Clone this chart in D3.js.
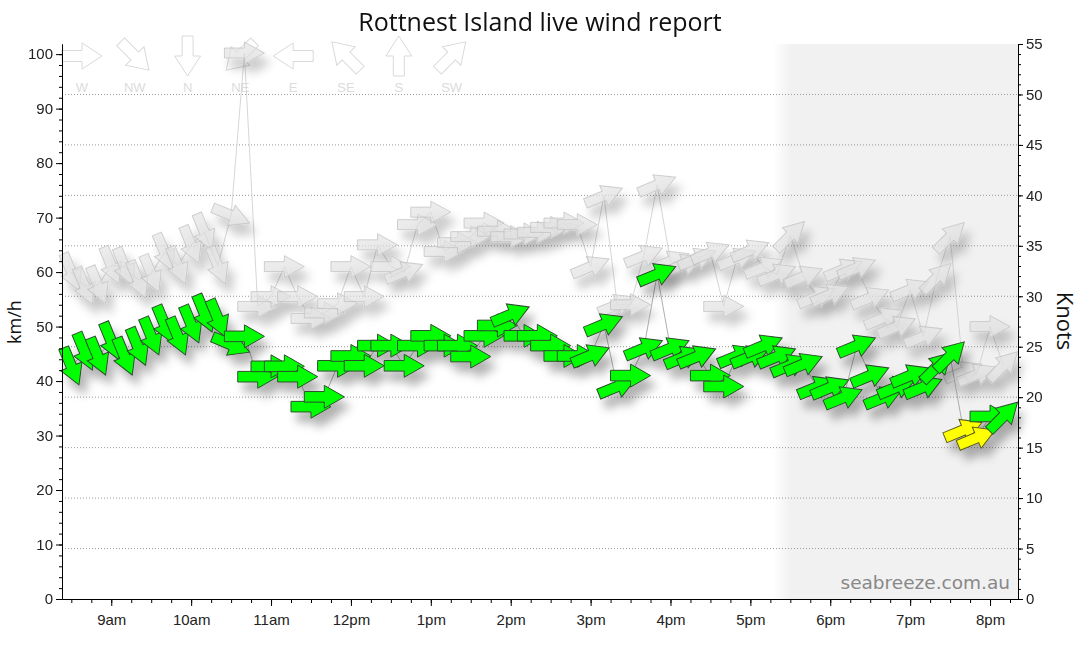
<!DOCTYPE html>
<html>
<head>
<meta charset="utf-8">
<script src="https://cdn.jsdelivr.net/npm/d3@7"></script>
<style>
body { margin: 0; background: #fff; }
svg { display: block; }
</style>
</head>
<body>
<svg id="chart"></svg>
<script>
// Readings every 10 minutes
const times = ["08:30","08:40","08:50","09:00","09:10","09:20","09:30","09:40","09:50","10:00","10:10","10:20",
    "10:30","10:40","10:50","11:00","11:10","11:20","11:30","11:40","11:50","12:00","12:10","12:20",
    "12:30","12:40","12:50","13:00","13:10","13:20","13:30","13:40","13:50","14:00","14:10","14:20",
    "14:30","14:40","14:50","15:00","15:10","15:20","15:30","15:40","15:50","16:00","16:10","16:20",
    "16:30","16:40","16:50","17:00","17:10","17:20","17:30","17:40","17:50","18:00","18:10","18:20",
    "18:30","18:40","18:50","19:00","19:10","19:20","19:30","19:40","19:50","20:00","20:10"];

// average wind, km/h
const windSpeed = [42.7,45.4,44.5,47.3,44.5,46.3,48.2,50.4,48.2,50.4,52.4,51.5,
    46.7,48.2,40.8,42.7,42.7,40.8,35.3,37.1,42.8,44.6,42.8,46.5,
    46.5,42.8,46.5,48.3,46.5,46.5,44.5,48.3,50.2,52.2,48.3,48.3,
    46.5,44.6,44.6,44.7,50.4,39.0,41.0,46.0,59.6,46.0,44.4,44.5,
    41.0,39.0,44.6,44.5,46.5,44.5,42.9,43.1,38.9,38.8,37.0,46.5,
    41.0,37.0,38.9,41.0,38.9,42.6,44.6,31.0,29.6,33.5,33.5];

const windDir = ["NNW","NNW","NNW","NNW","NNW","NNW","NNW","NNW","NNW","NNW","NNW","NNW",
    "WNW","W","W","W","W","W","W","W","W","W","W","W",
    "W","W","W","W","W","W","W","W","W","WSW","W","W",
    "W","W","W","WSW","WSW","WSW","W","WSW","WSW","WSW","WSW","WSW",
    "W","W","WSW","WSW","WSW","WSW","WSW","WSW","WSW","WSW","WSW","WSW",
    "WSW","WSW","WSW","WSW","WSW","SW","SW","WSW","WSW","W","SW"];

// gusts, km/h
const gustSpeed = [60.0,57.4,57.6,61.2,61.0,58.6,59.7,63.6,61.2,65.0,67.3,61.2,
    70.4,100.2,53.7,55.5,61.0,55.5,51.5,52.5,54.2,61.0,55.5,65.0,
    61.0,60.0,68.7,71.0,63.8,65.4,66.5,69.0,67.5,66.5,67.0,67.3,
    68.2,69.0,68.7,61.0,74.0,54.0,54.0,63.0,76.0,62.0,61.4,62.5,
    63.6,53.7,62.5,64.0,60.9,59.6,66.7,59.2,55.5,55.9,60.5,60.8,
    55.3,51.6,50.0,56.8,48.2,59.0,66.5,41.7,41.2,50.0,42.8];

const gustDir = ["NNW","NNW","NNW","NNW","NNW","NNW","NNW","NNW","NNW","NNW","NNW","NNW",
    "WNW","W","W","W","W","W","W","W","W","W","W","W",
    "W","WSW","W","W","W","W","W","W","W","W","W","W",
    "W","W","W","WSW","WSW","WSW","W","WSW","WSW","WSW","WSW","WSW",
    "WSW","W","WSW","WSW","WSW","WSW","SW","WSW","WSW","WSW","WSW","WSW",
    "WSW","WSW","WSW","WSW","WSW","SW","SW","WSW","WSW","W","SW"];

const legendDirs = ["W","NW","N","NE","E","SE","S","SW"];
const sunset = "17:20";
const viewStart = "08:23";
const viewEnd = "20:21";

const compassDeg = {N:0, NNE:22.5, NE:45, ENE:67.5, E:90, ESE:112.5, SE:135, SSE:157.5,
    S:180, SSW:202.5, SW:225, WSW:247.5, W:270, WNW:292.5, NW:315, NNW:337.5};

window.onload = function(){
    drawChart();
}

// block arrow pointing along +x, centred on the origin
function arrowPath(len, shaft, head, headLen){
    const h = len / 2;
    return `M${-h},${-shaft}L${h - headLen},${-shaft}L${h - headLen},${-head}L${h},0` +
        `L${h - headLen},${head}L${h - headLen},${shaft}L${-h},${shaft}Z`;
}

function drawChart()
{
    const width = 1080;
    const height = 666;
    const left = 62, right = 1018, top = 44, bottom = 599;
    const KMH_PER_KNOT = 1.852;

    const parseTime = d3.timeParse("%H:%M");

    const wind = times.map((t, i) => ({time: parseTime(t), speed: windSpeed[i], dir: windDir[i]}));
    const gust = times.map((t, i) => ({time: parseTime(t), speed: gustSpeed[i], dir: gustDir[i]}));

    const x = d3.scaleTime()
        .domain([parseTime(viewStart), parseTime(viewEnd)])
        .range([left, right]);
    const y = d3.scaleLinear()
        .domain([0, 55 * KMH_PER_KNOT])
        .range([bottom, top]);
    const yKnots = d3.scaleLinear()
        .domain([0, 55])
        .range([bottom, top]);

    // yellow below 17 knots, green above
    const speedColour = d3.scaleThreshold()
        .domain([17 * KMH_PER_KNOT])
        .range(["#ffff00", "#00ff00"]);
    const speedStroke = d3.scaleThreshold()
        .domain([17 * KMH_PER_KNOT])
        .range(["#5a5a1a", "#2d4d2d"]);

    const svg = d3.select("#chart")
        .attr("width", width)
        .attr("height", height);

    const defs = svg.append("defs");
    const grad = defs.append("linearGradient")
        .attr("id", "night")
        .attr("x1", "0").attr("x2", "1").attr("y1", "0").attr("y2", "0");
    grad.append("stop").attr("offset", "0").attr("stop-color", "#f1f1f1").attr("stop-opacity", 0);
    grad.append("stop").attr("offset", "1").attr("stop-color", "#f1f1f1").attr("stop-opacity", 1);

    defs.append("filter")
        .attr("id", "shadow")
        .attr("x", "-20%").attr("y", "-20%").attr("width", "140%").attr("height", "150%")
      .append("feDropShadow")
        .attr("dx", 6).attr("dy", 10)
        .attr("stdDeviation", 5)
        .attr("flood-color", "#000")
        .attr("flood-opacity", 0.3);

    // night shading after sunset
    const nightX = x(parseTime(sunset));
    svg.append("rect")
        .attr("x", nightX - 4).attr("y", top)
        .attr("width", 18).attr("height", bottom - top)
        .attr("fill", "url(#night)");
    svg.append("rect")
        .attr("x", nightX + 14).attr("y", top)
        .attr("width", right - nightX - 14).attr("height", bottom - top)
        .attr("fill", "#f1f1f1");

    // dotted grid at every 5 knots
    svg.append("g")
        .selectAll("line")
        .data(d3.range(5, 55, 5))
        .join("line")
            .attr("x1", left).attr("x2", right)
            .attr("y1", d => yKnots(d)).attr("y2", d => yKnots(d))
            .attr("stroke", "#999")
            .attr("stroke-dasharray", "1,2");

    // watermark
    svg.append("text")
        .attr("x", 1010).attr("y", 589)
        .attr("text-anchor", "end")
        .attr("font-family", "DejaVu Sans, sans-serif")
        .attr("font-size", "18.5px")
        .attr("fill", "#888")
        .text("seabreeze.com.au");

    // direction legend
    const legend = svg.append("g")
        .selectAll("g")
        .data(legendDirs)
        .join("g")
            .attr("transform", (d, i) => `translate(${82 + i * 52.8},56)`);
    legend.append("path")
        .attr("d", arrowPath(40, 5.5, 13, 20))
        .attr("transform", d => `rotate(${compassDeg[d] + 90})`)
        .attr("fill", "#fff")
        .attr("stroke", "#d9d9d9");
    legend.append("text")
        .attr("y", 36)
        .attr("text-anchor", "middle")
        .attr("font-family", "Liberation Sans, Arial, sans-serif")
        .attr("font-size", "13px")
        .attr("fill", "#dcdcdc")
        .text(d => d);

    const line = d3.line()
        .x(d => x(d.time))
        .y(d => y(d.speed));

    // gusts
    svg.append("path")
        .datum(gust)
        .attr("d", line)
        .attr("fill", "none")
        .attr("stroke", "#ccc")
        .attr("stroke-width", 0.8);

    svg.append("g")
        .attr("filter", "url(#shadow)")
        .selectAll("path")
        .data(gust)
        .join("path")
            .attr("d", arrowPath(40, 5, 11, 20))
            .attr("transform", d => `translate(${x(d.time)},${y(d.speed)}) rotate(${compassDeg[d.dir] + 90})`)
            .attr("fill", "#e2e2e2")
            .attr("fill-opacity", 0.65)
            .attr("stroke", "#bdbdbd")
            .attr("stroke-opacity", 0.7);

    // average wind
    svg.append("path")
        .datum(wind)
        .attr("d", line)
        .attr("fill", "none")
        .attr("stroke", "#999")
        .attr("stroke-width", 0.8);

    svg.append("g")
        .attr("filter", "url(#shadow)")
        .selectAll("path")
        .data(wind)
        .join("path")
            .attr("d", arrowPath(40, 5.3, 11.5, 20))
            .attr("transform", d => `translate(${x(d.time)},${y(d.speed)}) rotate(${compassDeg[d.dir] + 90})`)
            .attr("fill", d => speedColour(d.speed))
            .attr("stroke", d => speedStroke(d.speed))
            .attr("stroke-width", 1);

    // axes
    const tickFont = "Liberation Sans, Arial, sans-serif";
    const hourLabel = d => {
        const h = d.getHours();
        return (h % 12 || 12) + (h < 12 ? "am" : "pm");
    };

    const xMinor = svg.append("g")
        .attr("transform", `translate(0,${bottom})`)
        .call(d3.axisBottom(x).ticks(d3.timeMinute.every(15)).tickSize(4).tickSizeOuter(0).tickFormat(""));
    const xMajor = svg.append("g")
        .attr("transform", `translate(0,${bottom})`)
        .call(d3.axisBottom(x).ticks(d3.timeHour.every(1)).tickSize(7).tickSizeOuter(0).tickPadding(8).tickFormat(hourLabel));

    const yMinor = svg.append("g")
        .attr("transform", `translate(${left},0)`)
        .call(d3.axisLeft(y).tickValues(d3.range(0, 101, 2)).tickSize(3).tickSizeOuter(0).tickFormat(""));
    const yMajor = svg.append("g")
        .attr("transform", `translate(${left},0)`)
        .call(d3.axisLeft(y).tickValues(d3.range(0, 101, 10)).tickSize(6).tickSizeOuter(0).tickPadding(3));

    const kMinor = svg.append("g")
        .attr("transform", `translate(${right},0)`)
        .call(d3.axisRight(yKnots).tickValues(d3.range(0, 56, 1)).tickSize(3).tickSizeOuter(0).tickFormat(""));
    const kMajor = svg.append("g")
        .attr("transform", `translate(${right},0)`)
        .call(d3.axisRight(yKnots).tickValues(d3.range(0, 56, 5)).tickSize(5).tickSizeOuter(0).tickPadding(3));

    [xMinor, xMajor, yMinor, yMajor, kMinor, kMajor].forEach(g => {
        g.attr("font-family", tickFont).attr("font-size", "15px");
        g.selectAll("text").attr("fill", "#222");
        g.select(".domain").attr("stroke", "#000");
    });

    // titles
    svg.append("text")
        .attr("x", 540).attr("y", 31)
        .attr("text-anchor", "middle")
        .attr("font-family", "Open Sans, sans-serif")
        .attr("font-size", "25px")
        .attr("fill", "#111")
        .text("Rottnest Island live wind report");

    svg.append("text")
        .attr("transform", "translate(21,322) rotate(-90)")
        .attr("text-anchor", "middle")
        .attr("font-family", "Open Sans, sans-serif")
        .attr("font-size", "18px")
        .attr("fill", "#111")
        .text("km/h");

    svg.append("text")
        .attr("transform", "translate(1057,321) rotate(90)")
        .attr("text-anchor", "middle")
        .attr("font-family", "Open Sans, sans-serif")
        .attr("font-size", "22px")
        .attr("fill", "#111")
        .text("Knots");
}
</script>
</body>
</html>
